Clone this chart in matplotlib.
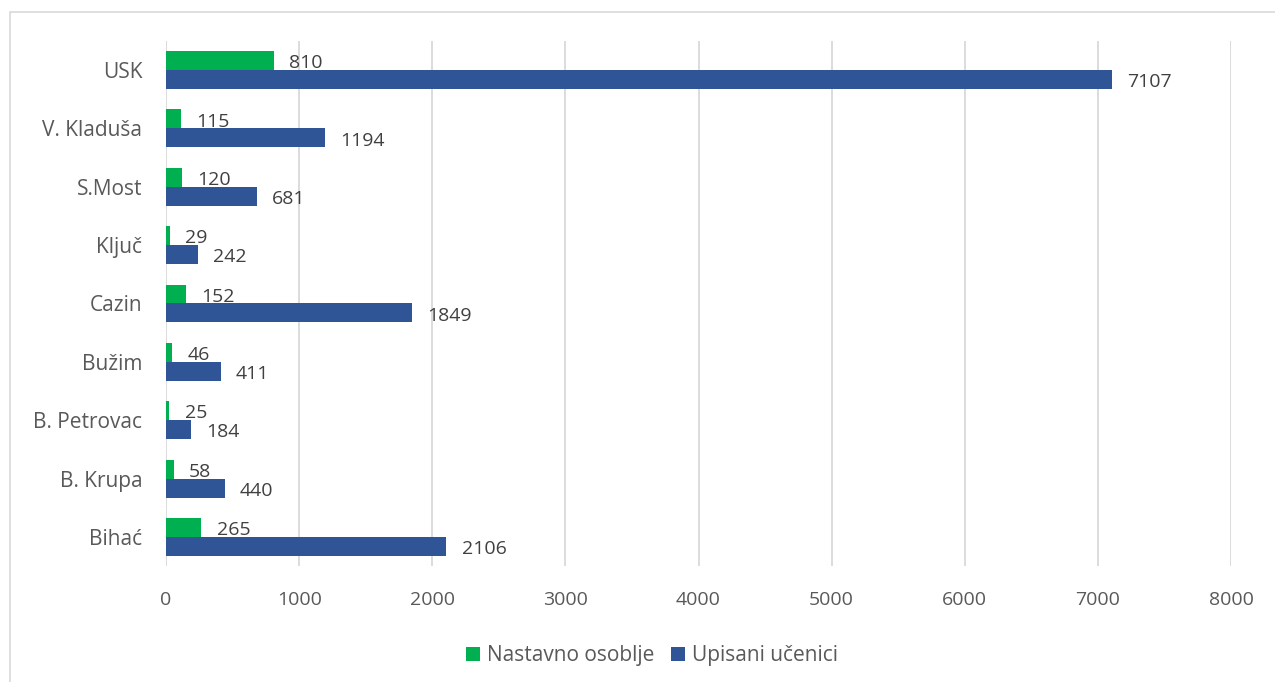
import matplotlib.pyplot as plt
from matplotlib.patches import Rectangle
import numpy as np

plt.rcParams['font.family'] = ['Open Sans', 'DejaVu Sans']

# podaci
opcine = ['Bihać', 'B. Krupa', 'B. Petrovac', 'Bužim', 'Cazin', 'Ključ', 'S.Most', 'V. Kladuša', 'USK']
nastavno = [265, 58, 25, 46, 152, 29, 120, 115, 810]
ucenici = [2106, 440, 184, 411, 1849, 242, 681, 1194, 7107]

green = '#00B050'
blue = '#2F5597'
txt = '#595959'

fig = plt.figure(figsize=(12.75, 6.82), dpi=100)
ax = fig.add_axes([0.1302, 0.170, 0.8353, 0.770])

y = np.arange(len(opcine))
h = 0.325
b1 = ax.barh(y + h / 2, nastavno, height=h, color=green, label='Nastavno osoblje')
b2 = ax.barh(y - h / 2, ucenici, height=h, color=blue, label='Upisani učenici')

for bars in (b1, b2):
    for r in bars:
        w = r.get_width()
        ax.annotate(str(int(w)), (w, r.get_y() + r.get_height() / 2),
                    xytext=(11, -2), textcoords='offset points',
                    va='center', ha='left', fontsize=14, color='#404040')

ax.set_xlim(0, 8000)
ax.set_ylim(-0.5, len(opcine) - 0.5)
ax.set_xticks(range(0, 8001, 1000))
ax.set_yticks(y)
ax.set_yticklabels(opcine)
ax.tick_params(axis='both', length=0, colors=txt)
ax.tick_params(axis='x', pad=18, labelsize=14)
ax.tick_params(axis='y', pad=17, labelsize=15)
ax.grid(axis='x', color='#d9d9d9', linewidth=1.3)
ax.set_axisbelow(True)
for s in ax.spines.values():
    s.set_visible(False)

ax.legend(loc='upper center', bbox_to_anchor=(0.456, -0.115), ncol=2, frameon=False,
          fontsize=15, labelcolor=txt, handlelength=0.7, handleheight=0.7,
          handletextpad=0.3, columnspacing=0.8)

fig.patches.append(Rectangle((10 / 1275, -0.01), 1.0, 1 - 12 / 682 + 0.01,
                             transform=fig.transFigure, fill=False,
                             edgecolor='#d9d9d9', linewidth=1.2))

plt.savefig('out.png', dpi=100)
